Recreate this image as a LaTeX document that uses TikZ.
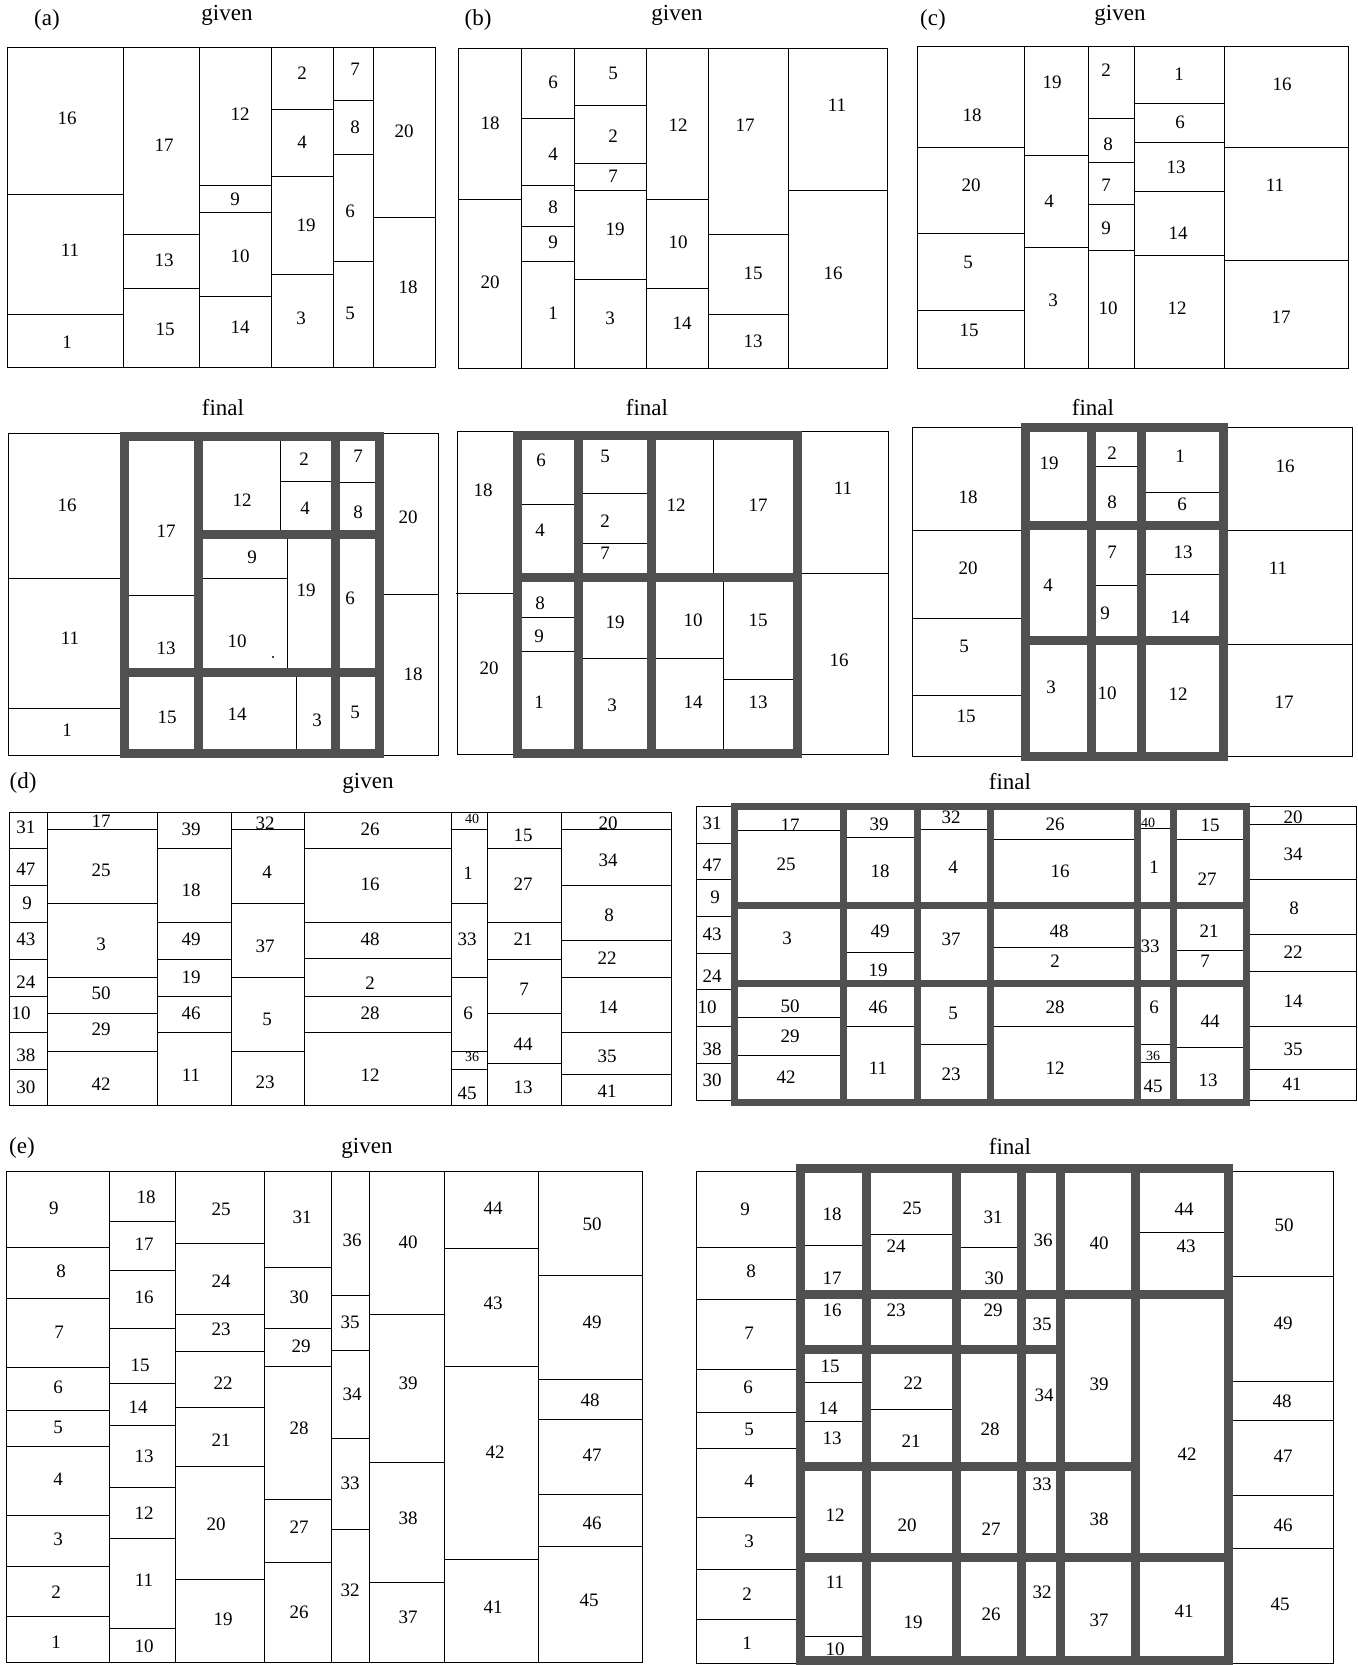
\documentclass[tikz,border=0pt]{standalone}
\usepackage{fontspec}
\setmainfont{Liberation Serif}
\definecolor{framegray}{RGB}{80,80,80}

\begin{document}
\begin{tikzpicture}[
		x=0.5pt, y=-0.5pt,
		thinline/.style={line width=0.5pt},
		boldframe/.style={draw=framegray, line width=4.5pt},
		slimframe/.style={draw=framegray, line width=3.5pt},
		num/.style={font=\fontsize{9.5}{11}\selectfont, inner sep=0pt},
		smallnum/.style={font=\fontsize{7}{8}\selectfont, inner sep=0pt},
		paneltitle/.style={font=\fontsize{11.5}{13}\selectfont, inner sep=0pt}
		]
		\useasboundingbox (0,0) rectangle (1357,1665);
		
		% --- Panel titles ---
		\node[paneltitle] (tag-a) at (47,20) {(a)};
		\node[paneltitle] (tag-b) at (478,20) {(b)};
		\node[paneltitle] (tag-c) at (933,20) {(c)};
		\node[paneltitle] (tag-d) at (23,783) {(d)};
		\node[paneltitle] (tag-e) at (22,1148) {(e)};
		\node[paneltitle] (given-a) at (227,15) {given};
		\node[paneltitle] (given-b) at (677,15) {given};
		\node[paneltitle] (given-c) at (1120,15) {given};
		\node[paneltitle] (given-d) at (368,783) {given};
		\node[paneltitle] (given-e) at (367,1148) {given};
		\node[paneltitle] (final-a) at (223,408) {final};
		\node[paneltitle] (final-b) at (647,408) {final};
		\node[paneltitle] (final-c) at (1093,408) {final};
		\node[paneltitle] (final-d) at (1010,782) {final};
		\node[paneltitle] (final-e) at (1010,1147) {final};
		
		% --- (a) given ---
		\draw[thinline] (7,47) rectangle (435,367);
		\foreach \x in {123,199,271,333,373} \draw[thinline] (\x,47) -- (\x,367);
		\foreach \y in {194,314} \draw[thinline] (7,\y) -- (123,\y);
		\foreach \y in {234,288} \draw[thinline] (123,\y) -- (199,\y);
		\foreach \y in {185,212,296} \draw[thinline] (199,\y) -- (271,\y);
		\foreach \y in {109,176,274} \draw[thinline] (271,\y) -- (333,\y);
		\foreach \y in {100,154,261} \draw[thinline] (333,\y) -- (373,\y);
		\draw[thinline] (373,217) -- (435,217);
		\foreach \x/\y/\t in {67/118/16, 70/250/11, 67/342/1, 164/145/17, 164/260/13, 165/329/15,
			240/114/12, 235/199/9, 240/256/10, 240/327/14, 302/73/2, 302/142/4, 306/225/19, 301/318/3,
			355/69/7, 355/127/8, 350/211/6, 350/313/5, 404/131/20, 408/287/18}
		\node[num] (ag\t) at (\x,\y) {\t};
		
		% --- (a) final ---
		\draw[thinline] (8,433) rectangle (124,755);
		\foreach \y in {578,708} \draw[thinline] (8,\y) -- (124,\y);
		\draw[thinline] (379,433) rectangle (438,755);
		\draw[thinline] (379,594) -- (438,594);
		\draw[thinline] (124,595) -- (198,595);
		\draw[thinline] (280,436) -- (280,534);
		\draw[thinline] (280,481) -- (335,481);
		\draw[thinline] (335,482) -- (379,482);
		\draw[thinline] (198,578) -- (287,578);
		\draw[thinline] (287,534) -- (287,672);
		\draw[thinline] (296,672) -- (296,753);
		\fill (273,657) circle (1.2);
		\draw[boldframe] (124,436) rectangle (379,753);
		\draw[boldframe] (198,436) -- (198,753);
		\draw[boldframe] (335,436) -- (335,753);
		\draw[boldframe] (198,534) -- (379,534);
		\draw[boldframe] (124,672) -- (379,672);
		\foreach \x/\y/\t in {67/505/16, 70/638/11, 67/730/1, 166/531/17, 166/648/13, 167/717/15,
			242/500/12, 304/459/2, 305/508/4, 358/456/7, 358/512/8, 252/557/9, 237/641/10, 306/590/19,
			350/598/6, 237/714/14, 317/720/3, 355/712/5, 408/517/20, 413/674/18}
		\node[num] (af\t) at (\x,\y) {\t};
		
		% --- (b) given ---
		\draw[thinline] (458,48) rectangle (887,368);
		\foreach \x in {521,574,646,708,788} \draw[thinline] (\x,48) -- (\x,368);
		\draw[thinline] (458,199) -- (521,199);
		\foreach \y in {118,185,226,261} \draw[thinline] (521,\y) -- (574,\y);
		\foreach \y in {105,163,190,279} \draw[thinline] (574,\y) -- (646,\y);
		\foreach \y in {199,288} \draw[thinline] (646,\y) -- (708,\y);
		\foreach \y in {234,314} \draw[thinline] (708,\y) -- (788,\y);
		\draw[thinline] (788,190) -- (887,190);
		\foreach \x/\y/\t in {490/123/18, 490/282/20, 553/82/6, 553/154/4, 553/207/8, 553/242/9, 553/313/1,
			613/73/5, 613/136/2, 613/176/7, 615/229/19, 610/318/3, 678/125/12, 678/242/10, 682/323/14,
			745/125/17, 753/273/15, 753/341/13, 837/105/11, 833/273/16}
		\node[num] (bg\t) at (\x,\y) {\t};
		
		% --- (b) final ---
		\draw[thinline] (457,431) rectangle (517,754);
		\draw[thinline] (456,593) -- (517,593);
		\draw[thinline] (797,431) rectangle (888,754);
		\draw[thinline] (797,573) -- (888,573);
		\draw[thinline] (517,504) -- (578,504);
		\draw[thinline] (578,493) -- (651,493);
		\draw[thinline] (578,543) -- (651,543);
		\draw[thinline] (713,435) -- (713,577);
		\draw[thinline] (517,617) -- (578,617);
		\draw[thinline] (517,651) -- (578,651);
		\draw[thinline] (578,658) -- (723,658);
		\draw[thinline] (723,577) -- (723,753);
		\draw[thinline] (723,679) -- (797,679);
		\draw[boldframe] (517,435) rectangle (797,753);
		\draw[boldframe] (578,435) -- (578,753);
		\draw[boldframe] (651,435) -- (651,753);
		\draw[boldframe] (517,577) -- (797,577);
		\foreach \x/\y/\t in {483/490/18, 489/668/20, 541/460/6, 540/530/4, 540/603/8, 539/636/9, 539/702/1,
			605/456/5, 605/521/2, 605/553/7, 615/622/19, 612/705/3, 676/505/12, 758/505/17, 693/620/10,
			758/620/15, 693/702/14, 758/702/13, 843/488/11, 839/660/16}
		\node[num] (bf\t) at (\x,\y) {\t};
		
		% --- (c) given ---
		\draw[thinline] (917,46) rectangle (1348,368);
		\foreach \x in {1024,1088,1134,1224} \draw[thinline] (\x,46) -- (\x,368);
		\foreach \y in {147,233,310} \draw[thinline] (917,\y) -- (1024,\y);
		\foreach \y in {155,247} \draw[thinline] (1024,\y) -- (1088,\y);
		\foreach \y in {118,162,204,250} \draw[thinline] (1088,\y) -- (1134,\y);
		\foreach \y in {103,142,191,255} \draw[thinline] (1134,\y) -- (1224,\y);
		\foreach \y in {147,260} \draw[thinline] (1224,\y) -- (1348,\y);
		\foreach \x/\y/\t in {972/115/18, 971/185/20, 968/262/5, 969/330/15, 1052/82/19, 1049/201/4, 1053/300/3,
			1106/70/2, 1108/144/8, 1106/185/7, 1106/228/9, 1108/308/10, 1179/74/1, 1180/122/6, 1176/167/13,
			1178/233/14, 1177/308/12, 1282/84/16, 1275/185/11, 1281/317/17}
		\node[num] (cg\t) at (\x,\y) {\t};
		
		% --- (c) final ---
		\draw[thinline] (912,427) rectangle (1025,756);
		\foreach \y in {530,618,695} \draw[thinline] (912,\y) -- (1025,\y);
		\draw[thinline] (1223,427) rectangle (1352,756);
		\foreach \y in {530,644} \draw[thinline] (1223,\y) -- (1352,\y);
		\draw[thinline] (1091,466) -- (1141,466);
		\draw[thinline] (1141,492) -- (1223,492);
		\draw[thinline] (1091,585) -- (1141,585);
		\draw[thinline] (1141,574) -- (1223,574);
		\draw[boldframe] (1025,427) rectangle (1223,756);
		\draw[boldframe] (1091,427) -- (1091,756);
		\draw[boldframe] (1141,427) -- (1141,756);
		\draw[boldframe] (1025,525) -- (1223,525);
		\draw[boldframe] (1025,640) -- (1223,640);
		\foreach \x/\y/\t in {968/497/18, 968/568/20, 964/646/5, 966/716/15, 1049/463/19, 1048/585/4, 1051/687/3,
			1112/453/2, 1112/502/8, 1112/552/7, 1105/613/9, 1107/693/10, 1180/456/1, 1182/504/6, 1183/552/13,
			1180/617/14, 1178/694/12, 1285/466/16, 1278/568/11, 1284/702/17}
		\node[num] (cf\t) at (\x,\y) {\t};
		
		% --- (d) given ---
		\draw[thinline] (9.5,812) rectangle (671.5,1105);
		\foreach \x in {47,157,231,304,451,487,561} \draw[thinline] (\x,812) -- (\x,1105);
		\foreach \y in {848,885,922,959,996,1032,1069} \draw[thinline] (9.5,\y) -- (47,\y);
		\foreach \y in {829,903,977,1013,1051} \draw[thinline] (47,\y) -- (157,\y);
		\foreach \y in {848,922,959,996,1032} \draw[thinline] (157,\y) -- (231,\y);
		\foreach \y in {829,903,977,1051} \draw[thinline] (231,\y) -- (304,\y);
		\foreach \y in {848,922,958,996,1032} \draw[thinline] (304,\y) -- (451,\y);
		\foreach \y in {829,903,977,1051,1069} \draw[thinline] (451,\y) -- (487,\y);
		\foreach \y in {848,922,959,1013,1063} \draw[thinline] (487,\y) -- (561,\y);
		\foreach \y in {829,885,940,977,1032,1074} \draw[thinline] (561,\y) -- (671.5,\y);
		\foreach \x/\y/\t in {26/827/31, 26/869/47, 27/903/9, 26/939/43, 26/982/24, 21/1013/10, 26/1055/38, 26/1087/30,
			101/821/17, 101/870/25, 101/944/3, 101/993/50, 101/1029/29, 101/1084/42,
			191/829/39, 191/890/18, 191/939/49, 191/977/19, 191/1013/46, 191/1075/11,
			265/823/32, 267/872/4, 265/946/37, 267/1019/5, 265/1082/23,
			370/829/26, 370/884/16, 370/939/48, 370/983/2, 370/1013/28, 370/1075/12,
			468/873/1, 467/939/33, 468/1013/6, 467/1093/45,
			523/835/15, 523/884/27, 523/939/21, 524/989/7, 523/1044/44, 523/1087/13,
			608/823/20, 608/860/34, 609/915/8, 607/958/22, 608/1007/14, 607/1056/35, 607/1091/41}
		\node[num] (dg\t) at (\x,\y) {\t};
		\node[smallnum] (dg40) at (472,819) {40};
		\node[smallnum] (dg36) at (472,1057) {36};
		
		% --- (d) final ---
		\draw[thinline] (696,806) rectangle (734,1100);
		\foreach \y in {843,879,916,953,989,1026,1063} \draw[thinline] (696,\y) -- (734,\y);
		\draw[thinline] (1247,806) rectangle (1356,1100);
		\foreach \y in {824,879,934,971,1026,1069} \draw[thinline] (1247,\y) -- (1356,\y);
		% row 1
		\draw[thinline] (734,830) -- (843,830);
		\draw[thinline] (843,837) -- (917,837);
		\draw[thinline] (917,829) -- (990,829);
		\draw[thinline] (990,839) -- (1137,839);
		\draw[thinline] (1137,828) -- (1173,828);
		\draw[thinline] (1173,839) -- (1247,839);
		% row 2
		\draw[thinline] (843,952) -- (917,952);
		\draw[thinline] (990,947) -- (1137,947);
		\draw[thinline] (1173,950) -- (1247,950);
		% row 3
		\foreach \y in {1017,1055} \draw[thinline] (734,\y) -- (843,\y);
		\draw[thinline] (843,1026) -- (917,1026);
		\draw[thinline] (917,1044) -- (990,1044);
		\draw[thinline] (990,1026) -- (1137,1026);
		\foreach \y in {1044,1062} \draw[thinline] (1137,\y) -- (1173,\y);
		\draw[thinline] (1173,1047) -- (1247,1047);
		\draw[slimframe] (734,806) rectangle (1246.5,1102);
		\foreach \x in {843,917,990,1137,1173} \draw[slimframe] (\x,806) -- (\x,1102);
		\foreach \y in {905,983} \draw[slimframe] (734,\y) -- (1246.5,\y);
		\foreach \x/\y/\t in {712/823/31, 712/865/47, 715/897/9, 712/934/43, 712/976/24, 707/1007/10, 712/1049/38, 712/1080/30,
			790/825/17, 786/864/25, 787/938/3, 790/1006/50, 790/1036/29, 786/1077/42,
			879/824/39, 880/871/18, 880/931/49, 878/970/19, 878/1007/46, 878/1068/11,
			951/817/32, 953/867/4, 951/939/37, 953/1013/5, 951/1074/23,
			1055/824/26, 1060/871/16, 1059/931/48, 1055/961/2, 1055/1007/28, 1055/1068/12,
			1154/867/1, 1150/946/33, 1154/1007/6, 1153/1086/45,
			1210/825/15, 1207/879/27, 1209/931/21, 1205/961/7, 1210/1021/44, 1208/1080/13,
			1293/817/20, 1293/854/34, 1294/908/8, 1293/952/22, 1293/1001/14, 1293/1049/35, 1292/1084/41}
		\node[num] (df\t) at (\x,\y) {\t};
		\node[smallnum] (df40) at (1148,823) {40};
		\node[smallnum] (df36) at (1153,1056) {36};
		
		% --- (e) given ---
		\draw[thinline] (6,1171) rectangle (642,1662);
		\foreach \x in {109,175,264,331,369,444,538} \draw[thinline] (\x,1171) -- (\x,1662);
		\foreach \y in {1247,1298,1367,1410,1446,1515,1566,1616} \draw[thinline] (6,\y) -- (109,\y);
		\foreach \y in {1221,1270,1328,1383,1425,1487,1538,1628} \draw[thinline] (109,\y) -- (175,\y);
		\foreach \y in {1243,1314,1351,1407,1466,1579} \draw[thinline] (175,\y) -- (264,\y);
		\foreach \y in {1267,1328,1366,1499,1562} \draw[thinline] (264,\y) -- (331,\y);
		\foreach \y in {1295,1350,1438,1529} \draw[thinline] (331,\y) -- (369,\y);
		\foreach \y in {1314,1462,1582} \draw[thinline] (369,\y) -- (444,\y);
		\foreach \y in {1248,1366,1559} \draw[thinline] (444,\y) -- (538,\y);
		\foreach \y in {1275,1379,1419,1494,1546} \draw[thinline] (538,\y) -- (642,\y);
		\foreach \x/\y/\t in {54/1208/9, 61/1271/8, 59/1332/7, 58/1387/6, 58/1427/5, 58/1479/4, 58/1539/3, 56/1592/2, 56/1642/1,
			146/1197/18, 144/1244/17, 144/1297/16, 140/1365/15, 138/1407/14, 144/1456/13, 144/1513/12, 144/1580/11, 144/1646/10,
			221/1209/25, 221/1281/24, 221/1329/23, 223/1383/22, 221/1440/21, 216/1524/20, 223/1619/19,
			302/1217/31, 299/1297/30, 301/1346/29, 299/1428/28, 299/1527/27, 299/1612/26,
			352/1240/36, 350/1322/35, 352/1394/34, 350/1483/33, 350/1590/32,
			408/1242/40, 408/1383/39, 408/1518/38, 408/1617/37,
			493/1208/44, 493/1303/43, 495/1452/42, 493/1607/41,
			592/1224/50, 592/1322/49, 590/1400/48, 592/1455/47, 592/1523/46, 589/1600/45}
		\node[num] (eg\t) at (\x,\y) {\t};
		
		% --- (e) final ---
		\draw[thinline] (696,1171) rectangle (800,1663);
		\foreach \y in {1247,1299,1369,1412,1448,1517,1569,1619} \draw[thinline] (696,\y) -- (800,\y);
		\draw[thinline] (1228,1171) rectangle (1333,1663);
		\foreach \y in {1276,1381,1420,1495,1548} \draw[thinline] (1228,\y) -- (1333,\y);
		\foreach \y in {1245,1382,1421,1636} \draw[thinline] (800,\y) -- (866,\y);
		\foreach \y in {1234,1409} \draw[thinline] (866,\y) -- (956,\y);
		\draw[thinline] (956,1247) -- (1021,1247);
		\draw[thinline] (1135,1232) -- (1228,1232);
		\draw[boldframe] (800,1168) rectangle (1228,1660);
		\foreach \x in {866,956,1021,1060,1135} \draw[boldframe] (\x,1168) -- (\x,1660);
		\draw[boldframe] (800,1294) -- (1228,1294);
		\draw[boldframe] (800,1349) -- (1060,1349);
		\draw[boldframe] (800,1466) -- (1135,1466);
		\draw[boldframe] (800,1557) -- (1228,1557);
		\foreach \x/\y/\t in {745/1209/9, 751/1271/8, 749/1333/7, 748/1387/6, 749/1429/5, 749/1481/4, 749/1541/3, 747/1594/2, 747/1643/1,
			832/1214/18, 832/1278/17, 832/1310/16, 830/1366/15, 828/1408/14, 832/1438/13, 835/1515/12, 835/1582/11, 835/1649/10,
			912/1208/25, 896/1246/24, 896/1310/23, 913/1383/22, 911/1441/21, 907/1525/20, 913/1622/19,
			993/1217/31, 994/1278/30, 993/1310/29, 990/1429/28, 991/1529/27, 991/1614/26,
			1043/1240/36, 1042/1324/35, 1044/1395/34, 1042/1484/33, 1042/1592/32,
			1099/1243/40, 1099/1384/39, 1099/1519/38, 1099/1620/37,
			1184/1209/44, 1186/1246/43, 1187/1454/42, 1184/1611/41,
			1284/1225/50, 1283/1323/49, 1282/1401/48, 1283/1456/47, 1283/1525/46, 1280/1604/45}
		\node[num] (ef\t) at (\x,\y) {\t};
		
	\end{tikzpicture}
\end{document}
